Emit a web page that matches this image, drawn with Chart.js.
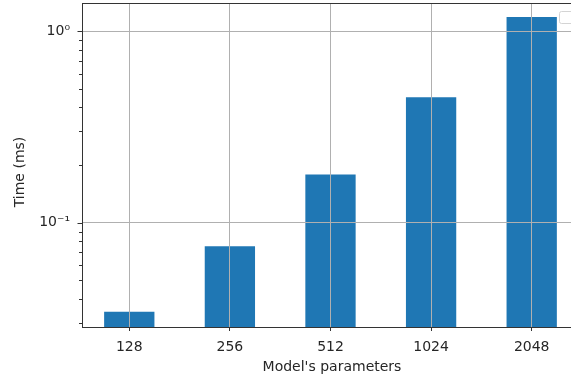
<!DOCTYPE html>
<html>
<head>
<meta charset="utf-8">
<script src="https://cdn.jsdelivr.net/npm/chart.js@4"></script>
<style>
  html, body { margin: 0; padding: 0; background: #fff; overflow: hidden; }
  #wrap { width: 571px; height: 380px; overflow: hidden; position: relative; }
  canvas { display: block; }
</style>
</head>
<body>
<div id="wrap"><canvas id="chart" width="600" height="380"></canvas></div>
<script>
// Inference time per model size
const categories = ['128', '256', '512', '1024', '2048'];
const timesMs = [0.0343, 0.0755, 0.1786, 0.452, 1.186];

// Log-axis ticks: labelled decades and unlabelled minor ticks
const yMajorTicks = [0.1, 1];
const yMinorTicks = [0.03, 0.04, 0.05, 0.06, 0.07, 0.08, 0.09, 0.2, 0.3, 0.4, 0.5, 0.6, 0.7, 0.8, 0.9];
const yMajorLabels = { '0.1': '10\u207B\u00B9', '1': '10\u2070' };
const yTitle = 'Time (ms)';

const FONT = { family: "'DejaVu Sans', sans-serif", size: 14 };
const INK = '#262626';
const SPINE = '#333333';
const GRID = '#b0b0b0';
const BAR = '#1f77b4';

// Top spine, y tick marks (major longer than minor), y title and the empty legend frame
const framePlugin = {
  id: 'frame',
  afterDraw(chart) {
    const { ctx, chartArea: a, scales: { y } } = chart;
    ctx.save();
    ctx.strokeStyle = SPINE;
    ctx.lineWidth = 1;
    ctx.beginPath();
    ctx.moveTo(a.left, a.top + 0.5);
    ctx.lineTo(a.right, a.top + 0.5);
    ctx.stroke();

    y.ticks.forEach(t => {
      const py = Math.round(y.getPixelForValue(t.value)) + 0.5;
      const len = yMajorTicks.includes(t.value) ? 4.5 : 3;
      ctx.beginPath();
      ctx.moveTo(a.left - len, py);
      ctx.lineTo(a.left, py);
      ctx.stroke();
    });

    // rotated y-axis title
    ctx.save();
    ctx.translate(20, (a.top + a.bottom) / 2 + 7);
    ctx.rotate(-Math.PI / 2);
    ctx.fillStyle = INK;
    ctx.font = `${FONT.size}px ${FONT.family}`;
    ctx.textAlign = 'center';
    ctx.textBaseline = 'middle';
    ctx.fillText(yTitle, 0, 0);
    ctx.restore();

    // empty legend box in the upper-right corner
    ctx.strokeStyle = '#d4d4d4';
    ctx.fillStyle = 'rgba(255,255,255,0.8)';
    const lx = a.right - 22.5, ly = a.top + 8.5, lw = 16, lh = 12, r = 2;
    ctx.beginPath();
    ctx.moveTo(lx + r, ly);
    ctx.lineTo(lx + lw - r, ly);
    ctx.arcTo(lx + lw, ly, lx + lw, ly + r, r);
    ctx.lineTo(lx + lw, ly + lh - r);
    ctx.arcTo(lx + lw, ly + lh, lx + lw - r, ly + lh, r);
    ctx.lineTo(lx + r, ly + lh);
    ctx.arcTo(lx, ly + lh, lx, ly + lh - r, r);
    ctx.lineTo(lx, ly + r);
    ctx.arcTo(lx, ly, lx + r, ly, r);
    ctx.closePath();
    ctx.fill();
    ctx.stroke();
    ctx.restore();
  }
};

new Chart(document.getElementById('chart'), {
  type: 'bar',
  data: {
    datasets: [{
      data: timesMs.map((v, i) => ({ x: i, y: v })),
      backgroundColor: BAR,
      borderWidth: 0,
      barPercentage: 0.5,
      categoryPercentage: 1.0
    }]
  },
  options: {
    responsive: false,
    animation: false,
    events: [],
    layout: { padding: { top: 3, right: 18, left: 0, bottom: 0 } },
    plugins: { legend: { display: false }, tooltip: { enabled: false } },
    scales: {
      x: {
        type: 'linear',
        min: -0.47,
        max: 4.5,
        offset: false,
        afterFit: s => { s.height = 53; s.paddingLeft = 0; s.paddingRight = 0; },
        afterBuildTicks: s => { s.ticks = categories.map((_, i) => ({ value: i })); },
        ticks: {
          autoSkip: false,
          maxRotation: 0,
          padding: 8,
          color: INK,
          font: FONT,
          callback: v => categories[v] ?? ''
        },
        grid: {
          offset: false,
          color: GRID,
          lineWidth: 1,
          tickColor: SPINE,
          tickLength: 4,
          z: 1
        },
        border: { color: SPINE, width: 1, z: 2 },
        title: {
          display: true,
          text: "Model's parameters",
          color: INK,
          font: FONT,
          padding: { top: 0, bottom: 4 }
        }
      },
      y: {
        type: 'logarithmic',
        min: 0.02858,
        max: 1.403,
        afterFit: s => { s.width = 82; s.paddingTop = 0; s.paddingBottom = 0; },
        afterBuildTicks: s => {
          s.ticks = [...yMinorTicks, ...yMajorTicks]
            .sort((a, b) => a - b)
            .map(v => ({ value: v }));
        },
        ticks: {
          autoSkip: false,
          padding: 8,
          color: INK,
          font: FONT,
          callback: v => yMajorLabels[String(v)] ?? ''
        },
        grid: {
          color: c => (c.tick && yMajorTicks.includes(c.tick.value)) ? GRID : 'rgba(0,0,0,0)',
          lineWidth: 1,
          tickColor: 'rgba(0,0,0,0)',
          tickLength: 4,
          z: 1
        },
        border: { color: SPINE, width: 1, z: 2 },
        title: { display: false }
      }
    }
  },
  plugins: [framePlugin]
});
</script>
</body>
</html>
